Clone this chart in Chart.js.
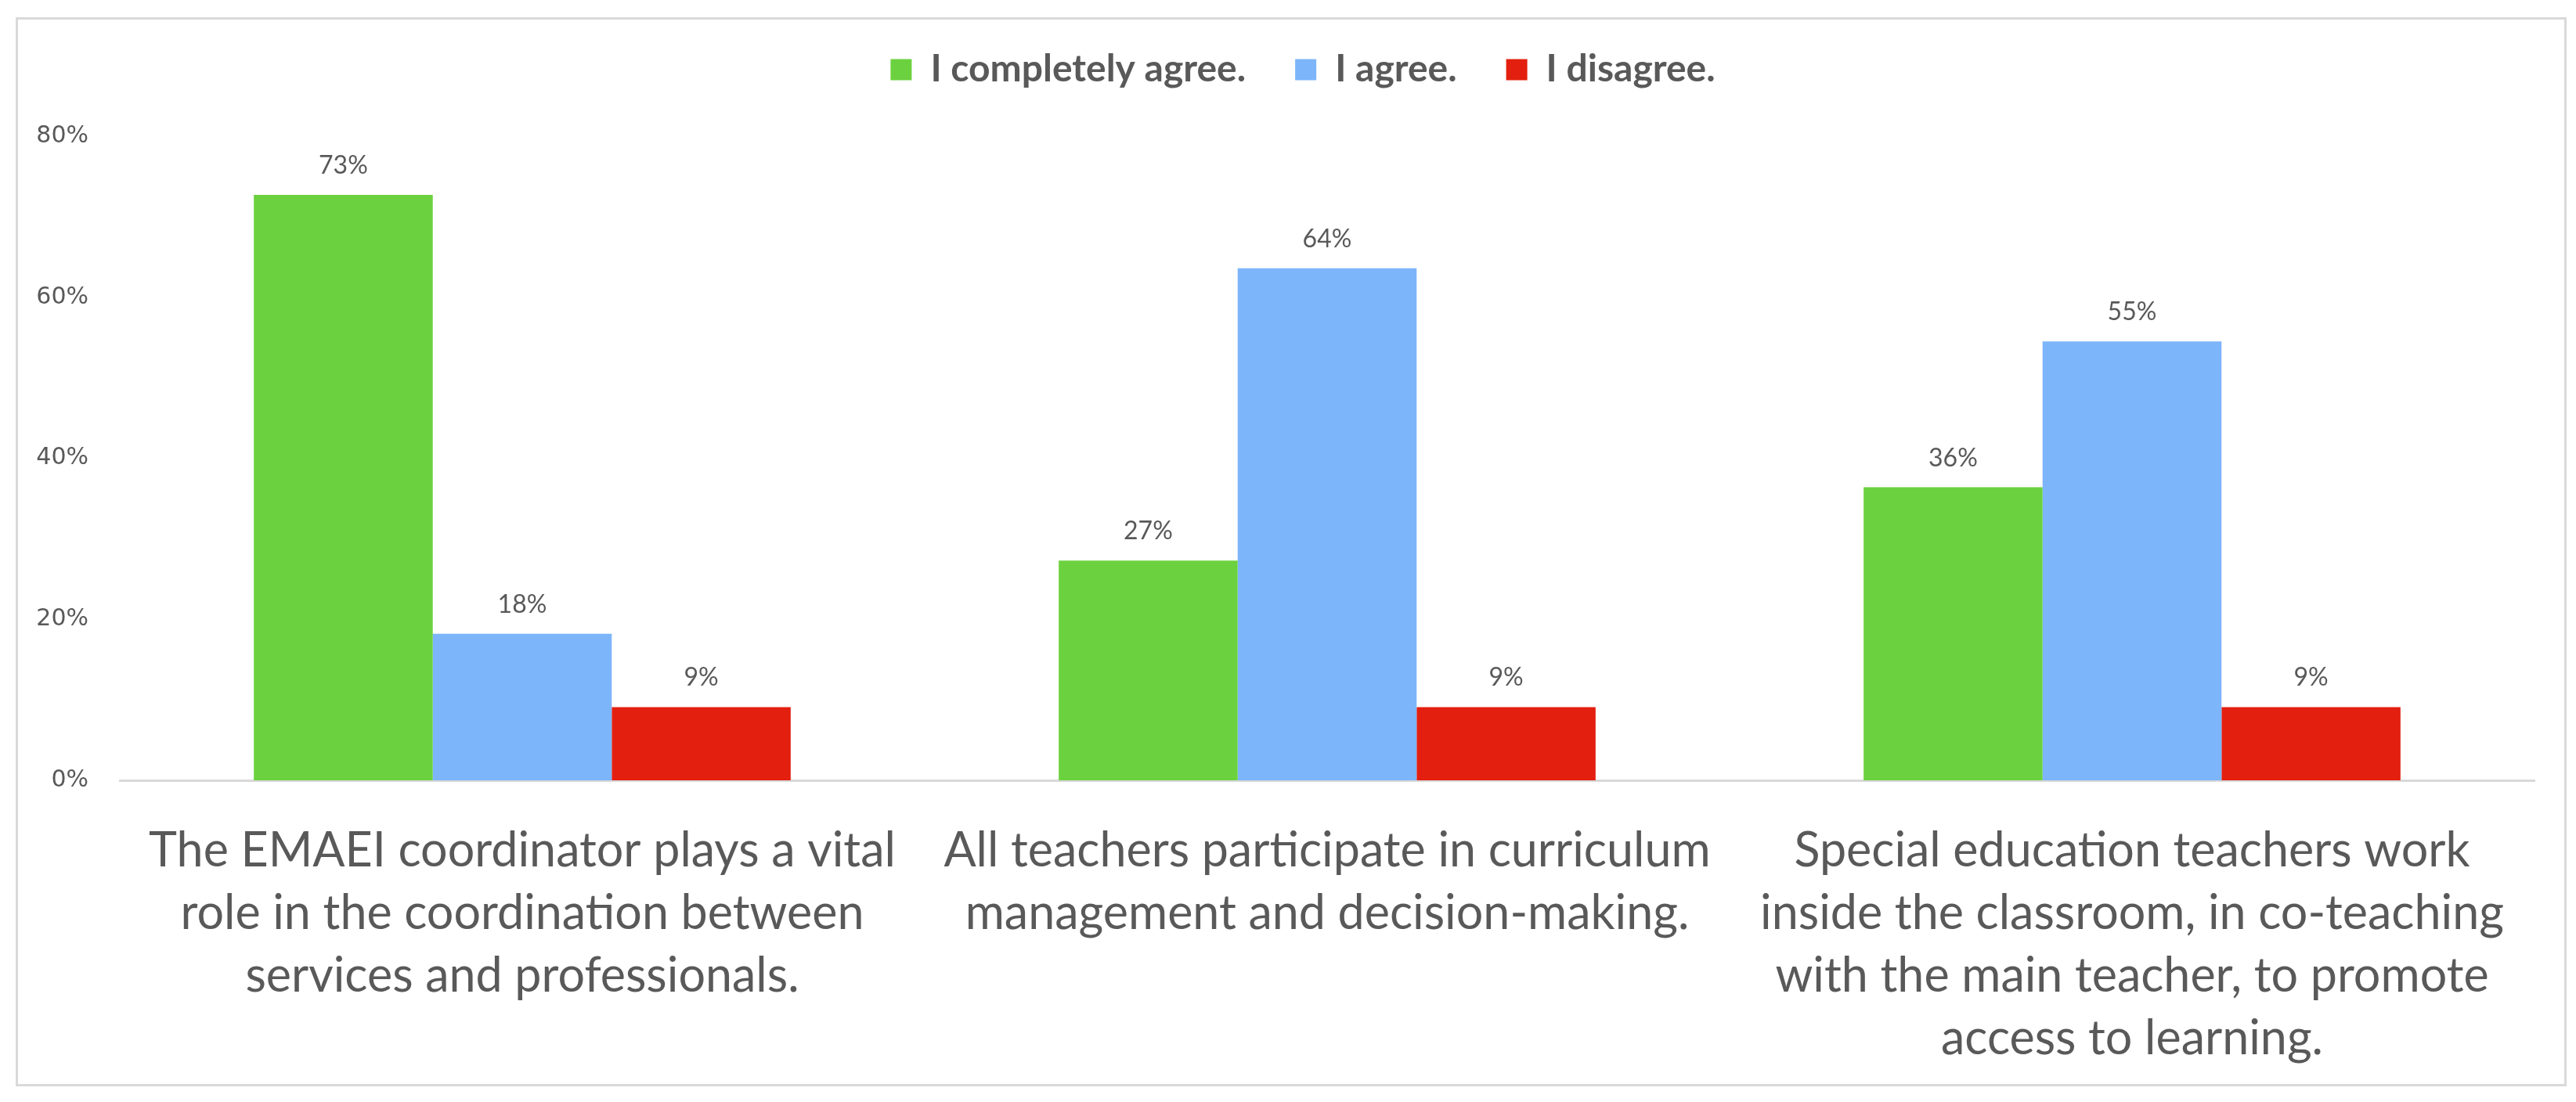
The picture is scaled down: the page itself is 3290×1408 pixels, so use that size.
<!DOCTYPE html>
<html>
<head>
<meta charset="utf-8">
<script src="https://cdn.jsdelivr.net/npm/chart.js@4.4.1/dist/chart.umd.min.js"></script>
<style>
    body { margin: 0; background: #ffffff; }
    #marco {
        position: absolute; left: 20px; top: 22px;
        width: 3258px; height: 1366px;
        box-sizing: border-box; border: 3px solid #d9d9d9; background: #ffffff;
    }
    #caja { position: relative; width: 3252px; height: 1360px; }
</style>
</head>
<body>
<div id="marco"><div id="caja"><canvas id="barChart"></canvas></div></div>
<script>
/* datos del grafico */
var categorias = [
    ["The EMAEI coordinator plays a vital", "role in the coordination between", "services and professionals."],
    ["All teachers participate in curriculum", "management and decision-making."],
    ["Special education teachers work", "inside the classroom, in co-teaching", "with the main teacher, to promote", "access to learning."]
];
var series = ["I completely agree.", "I agree.", "I disagree."];
var completamente = [0.727, 0.273, 0.364];
var deAcuerdo = [0.182, 0.636, 0.545];
var desacuerdo = [0.091, 0.091, 0.091];
var ticksY = [0, 0.2, 0.4, 0.6, 0.8];

var colores = ['#6cd13f', '#7cb5fa', '#e31f0f'];

function pct(v) {
    return Math.round(v * 100) + '%';
}

/* etiquetas encima de cada barra */
var etiquetas = {
    id: 'etiquetas',
    afterDatasetsDraw: function (chart) {
        var ctx = chart.ctx;
        ctx.save();
        ctx.font = '32px Lato';
        ctx.fillStyle = '#595959';
        ctx.textAlign = 'center';
        ctx.textBaseline = 'alphabetic';
        chart.data.datasets.forEach(function (ds, i) {
            var meta = chart.getDatasetMeta(i);
            meta.data.forEach(function (bar, j) {
                ctx.fillText(pct(ds.data[j]), bar.x, bar.y - 27);
            });
        });
        ctx.restore();
    }
};

/* alto fijo de la leyenda y un pequeño corrimiento a la derecha */
var ajusteLeyenda = {
    id: 'ajusteLeyenda',
    beforeInit: function (chart) {
        var leyenda = chart.legend;
        var fitOrig = leyenda.fit;
        var drawOrig = leyenda.draw;
        leyenda.fit = function () {
            fitOrig.bind(leyenda)();
            this.height = 172;
        };
        leyenda.draw = function () {
            var ctx = chart.ctx;
            ctx.save();
            ctx.translate(34, 0);
            drawOrig.bind(leyenda)();
            ctx.restore();
        };
    }
};

var chartdata = {
    labels: categorias,
    datasets: [
        { label: series[0], backgroundColor: colores[0], data: completamente },
        { label: series[1], backgroundColor: colores[1], data: deAcuerdo },
        { label: series[2], backgroundColor: colores[2], data: desacuerdo }
    ]
};

Chart.defaults.color = '#595959';

var barGraph = new Chart(document.getElementById('barChart'), {
    type: 'bar',
    data: chartdata,
    plugins: [etiquetas, ajusteLeyenda],
    options: {
        responsive: true,
        maintainAspectRatio: false,
        animation: false,
        categoryPercentage: 0.667,
        barPercentage: 1.0,
        layout: { padding: { left: 0, right: 38, top: -23, bottom: 20 } },
        plugins: {
            tooltip: { enabled: false },
            legend: {
                position: 'top',
                labels: {
                    boxWidth: 27,
                    boxHeight: 27,
                    padding: 63,
                    color: '#595959',
                    font: { family: 'Lato', size: 48, weight: 'bold' }
                }
            }
        },
        scales: {
            x: {
                grid: { display: false },
                border: { display: true, color: '#d9d9d9', width: 3 },
                afterFit: function (axis) { axis.height = 368; },
                ticks: {
                    autoSkip: false,
                    maxRotation: 0,
                    minRotation: 0,
                    padding: 42,
                    color: '#595959',
                    font: { family: 'Lato', size: 61, lineHeight: 1.311 }
                }
            },
            y: {
                min: 0,
                max: 0.8,
                afterBuildTicks: function (axis) {
                    axis.ticks = ticksY.map(function (v) { return { value: v }; });
                },
                afterFit: function (axis) { axis.width = 130; },
                grid: { display: false },
                border: { display: false },
                ticks: {
                    padding: 32,
                    color: '#595959',
                    font: { family: 'DejaVu Sans', size: 30 },
                    callback: function (v) { return pct(v); }
                }
            }
        }
    }
});
</script>
</body>
</html>
